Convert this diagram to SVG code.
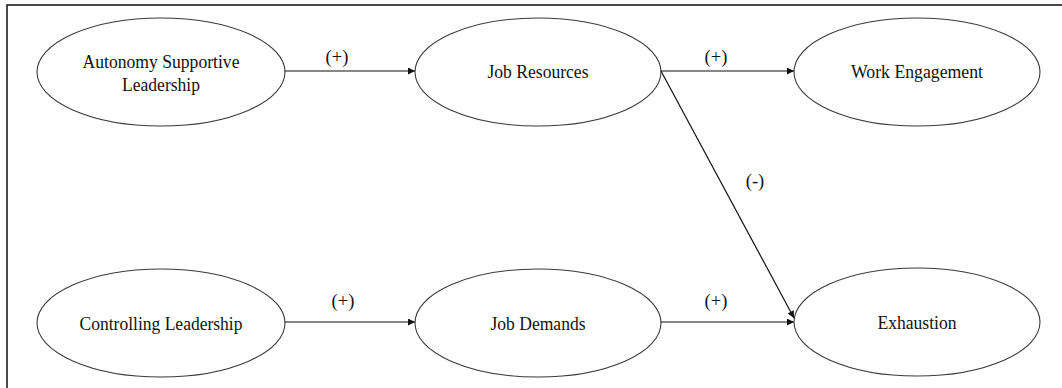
<svg xmlns="http://www.w3.org/2000/svg" width="1062" height="388" viewBox="0 0 1062 388">
  <style>
    .node ellipse { fill: #ffffff; stroke: #3a3a3a; stroke-width: 1.1; }
    .node text, .lbl { font-family: "Liberation Serif", "Times New Roman", serif; font-size: 18.5px; fill: #111111; text-anchor: middle; }
    .edge { stroke: #111111; stroke-width: 1.2; fill: none; marker-end: url(#arrow); }
  </style>
  <defs>
    <marker id="arrow" viewBox="0 0 10 10" refX="10" refY="5" markerWidth="8" markerHeight="7" markerUnits="userSpaceOnUse" orient="auto">
      <path d="M0,0 L10,5 L0,10 z" fill="#111111"/>
    </marker>
  </defs>
  <rect x="0" y="0" width="1062" height="388" fill="#ffffff"/>
  <rect x="7" y="5" width="1100" height="420" fill="none" stroke="#111111" stroke-width="1.5"/>

  <g id="node-autonomy" class="node">
    <ellipse cx="161" cy="72" rx="124" ry="54"/>
    <text x="161" y="68" textLength="157" lengthAdjust="spacingAndGlyphs">Autonomy Supportive</text>
    <text x="161" y="91" textLength="78" lengthAdjust="spacingAndGlyphs">Leadership</text>
  </g>
  <g id="node-job-resources" class="node">
    <ellipse cx="538" cy="72" rx="123" ry="54"/>
    <text x="538" y="78" textLength="101" lengthAdjust="spacingAndGlyphs">Job Resources</text>
  </g>
  <g id="node-work-engagement" class="node">
    <ellipse cx="917" cy="72" rx="123" ry="54"/>
    <text x="917" y="78" textLength="132" lengthAdjust="spacingAndGlyphs">Work Engagement</text>
  </g>
  <g id="node-controlling" class="node">
    <ellipse cx="161" cy="323" rx="124" ry="54"/>
    <text x="161" y="330" textLength="163" lengthAdjust="spacingAndGlyphs">Controlling Leadership</text>
  </g>
  <g id="node-job-demands" class="node">
    <ellipse cx="538" cy="323" rx="123" ry="54"/>
    <text x="538" y="330" textLength="95" lengthAdjust="spacingAndGlyphs">Job Demands</text>
  </g>
  <g id="node-exhaustion" class="node">
    <ellipse cx="917" cy="322" rx="123" ry="54"/>
    <text x="917" y="329" textLength="79" lengthAdjust="spacingAndGlyphs">Exhaustion</text>
  </g>

  <g id="connectors">
    <line class="edge" x1="285" y1="71" x2="415" y2="71"/>
    <line class="edge" x1="661" y1="71" x2="794" y2="71"/>
    <line class="edge" x1="661" y1="71" x2="794" y2="318"/>
    <line class="edge" x1="285" y1="322" x2="415" y2="322"/>
    <line class="edge" x1="661" y1="322" x2="794" y2="322"/>
    <text class="lbl" x="337" y="63">(+)</text>
    <text class="lbl" x="716" y="63">(+)</text>
    <text class="lbl" x="755" y="187">(-)</text>
    <text class="lbl" x="343" y="307">(+)</text>
    <text class="lbl" x="716" y="307">(+)</text>
  </g>
</svg>
